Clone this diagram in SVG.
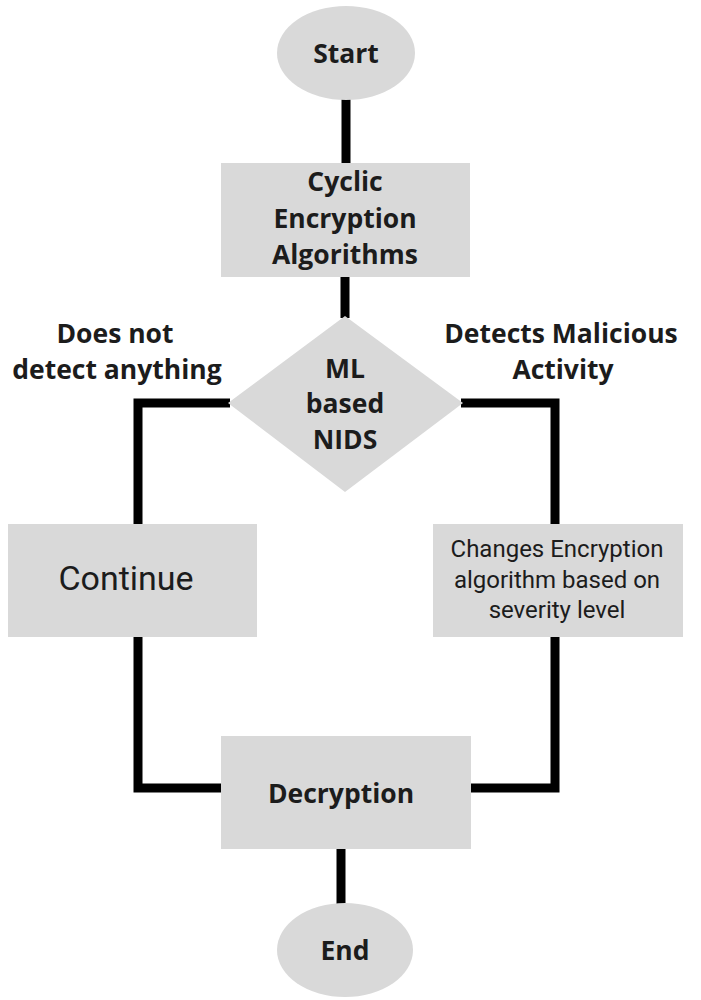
<svg xmlns="http://www.w3.org/2000/svg" width="701" height="1000" viewBox="0 0 701 1000">
<style>
.shape{fill:#d9d9d9}
.b{font-family:"Open Sans","Liberation Sans",sans-serif;font-weight:700;font-size:26.5px;fill:#1c1c1c;text-anchor:middle}
.r{font-family:Roboto,"Liberation Sans",sans-serif;font-weight:400;fill:#1c1c1c;text-anchor:middle}
.conn{fill:none;stroke:#000;stroke-width:9;stroke-linejoin:miter;stroke-linecap:butt}
</style>
<rect width="701" height="1000" fill="#fff"/>
<g id="connectors">
<line class="conn" x1="346" y1="98" x2="346" y2="164"/>
<line class="conn" x1="345" y1="276" x2="345" y2="318"/>
<polyline class="conn" points="230,403 138,403 138,525"/>
<polyline class="conn" points="461,403 555,403 555,525"/>
<polyline class="conn" points="138,636 138,788 222,788"/>
<polyline class="conn" points="555,636 555,788 470,788"/>
<line class="conn" x1="341" y1="848" x2="341" y2="904"/>
</g>
<g id="start">
<ellipse class="shape" cx="346" cy="53" rx="69" ry="47"/>
<text class="b" x="346" y="63">Start</text>
</g>
<g id="cyclic">
<rect class="shape" x="221" y="163" width="249" height="114"/>
<text class="b" x="345" y="191">Cyclic</text>
<text class="b" x="345" y="228">Encryption</text>
<text class="b" x="345" y="264">Algorithms</text>
</g>
<g id="nids">
<polygon class="shape" points="345,316 463,403 345,492 228,403"/>
<text class="b" x="345" y="378">ML</text>
<text class="b" x="345" y="413">based</text>
<text class="b" x="345" y="449">NIDS</text>
</g>
<g id="label-no">
<text class="b" x="115" y="343">Does not</text>
<text class="b" x="117" y="379">detect anything</text>
</g>
<g id="label-yes">
<text class="b" x="561" y="343">Detects Malicious</text>
<text class="b" x="563" y="379">Activity</text>
</g>
<g id="continue">
<rect class="shape" x="8" y="524" width="249" height="113"/>
<text class="r" x="126" y="590" font-size="34">Continue</text>
</g>
<g id="changes">
<rect class="shape" x="433" y="524" width="250" height="113"/>
<text class="r" x="557" y="557" font-size="24">Changes Encryption</text>
<text class="r" x="557" y="588" font-size="24">algorithm based on</text>
<text class="r" x="557" y="618" font-size="24">severity level</text>
</g>
<g id="decryption">
<rect class="shape" x="221" y="736" width="250" height="113"/>
<text class="b" x="341" y="803">Decryption</text>
</g>
<g id="end">
<ellipse class="shape" cx="345" cy="950" rx="68" ry="47"/>
<text class="b" x="345" y="960">End</text>
</g>
</svg>
